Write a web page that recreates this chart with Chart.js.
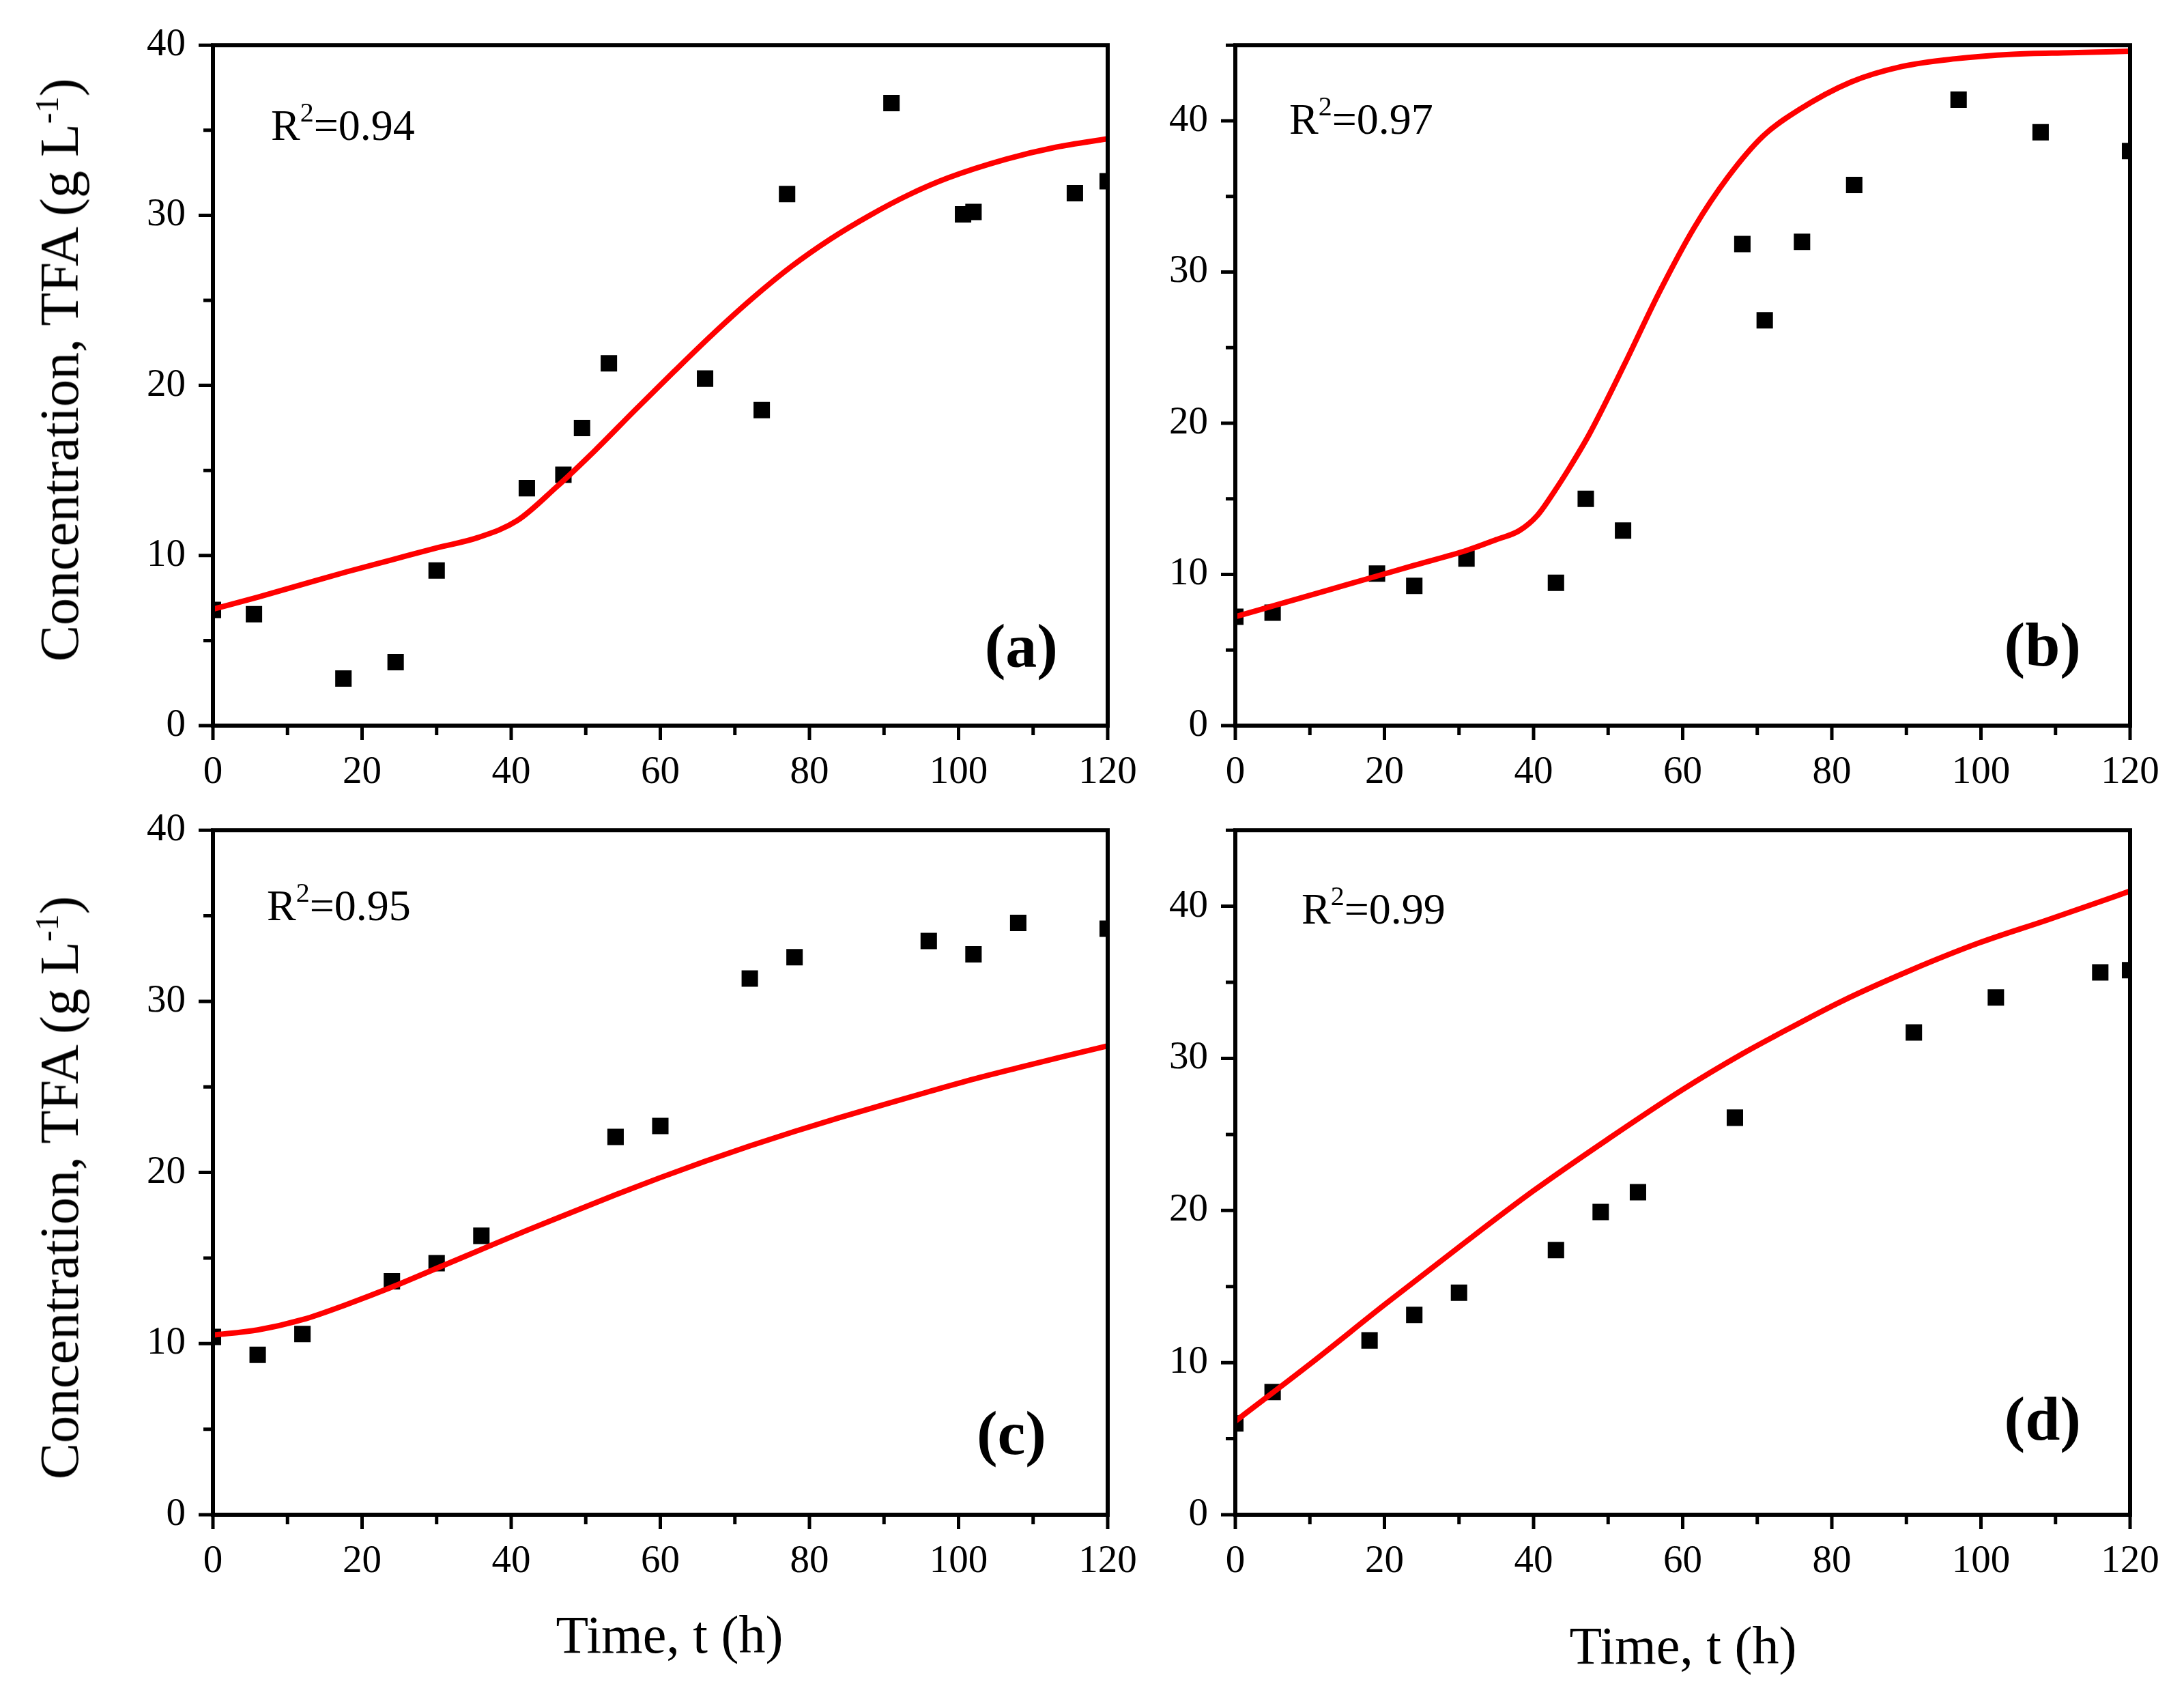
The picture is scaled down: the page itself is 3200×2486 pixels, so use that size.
<!DOCTYPE html>
<html>
<head>
<meta charset="utf-8">
<script src="https://cdn.jsdelivr.net/npm/chart.js@4.4.1/dist/chart.umd.min.js"></script>
<style>
  html, body { margin: 0; padding: 0; background: #fff; }
  #page { position: relative; width: 3200px; height: 2486px; overflow: hidden; background: #fff; }
  canvas { position: absolute; }
  .ytitle, .xtitle {
    position: absolute; white-space: nowrap; color: #000;
    font-family: "Liberation Serif", "DejaVu Serif", serif; line-height: 1;
  }
  .ytitle { font-size: 80px; transform: translate(-50%, -50%) rotate(-90deg); }
  .xtitle { font-size: 78px; transform: translateX(-50%); }
  .ytitle sup { font-size: 0.6em; vertical-align: 0; position: relative; top: -0.6em; }
</style>
</head>
<body>
<div id="page">
  <canvas id="chartA" width="1700" height="1180" style="left:0px;top:0px"></canvas>
  <canvas id="chartB" width="1550" height="1180" style="left:1650px;top:0px"></canvas>
  <canvas id="chartC" width="1700" height="1336" style="left:0px;top:1150px"></canvas>
  <canvas id="chartD" width="1550" height="1336" style="left:1650px;top:1150px"></canvas>

  <div class="ytitle" style="left:87px;top:542px">Concentration, TFA (g L<sup>-1</sup>)</div>
  <div class="ytitle" style="left:87px;top:1740px">Concentration, TFA (g L<sup>-1</sup>)</div>
  <div class="xtitle" style="left:981px;top:2356px">Time, t (h)</div>
  <div class="xtitle" style="left:2466px;top:2372px">Time, t (h)</div>
</div>

<script>
// experimental points (time in h, TFA in g/L)
const timeA = [0, 5.5, 17.5, 24.5, 30, 42.1, 47, 49.5, 53.1, 66, 73.6, 77, 91, 100.6, 102, 115.6, 120];
const tfaA = [6.8, 6.55, 2.77, 3.73, 9.12, 13.96, 14.75, 17.5, 21.3, 20.4, 18.55, 31.25, 36.6, 30.06, 30.2, 31.3, 32.0];

const timeB = [0, 5, 19, 24, 31, 43, 47, 52, 68, 71, 76, 83, 97, 108, 120];
const tfaB = [7.2, 7.47, 10.06, 9.24, 11.05, 9.45, 15.0, 12.9, 31.85, 26.8, 32.0, 35.75, 41.4, 39.24, 38.0];

const timeC = [0, 6, 12, 24, 30, 36, 54, 60, 72, 78, 96, 102, 108, 120];
const tfaC = [10.39, 9.34, 10.56, 13.64, 14.7, 16.3, 22.08, 22.72, 31.33, 32.58, 33.53, 32.75, 34.58, 34.24];

const timeD = [0, 5, 18, 24, 30, 43, 49, 54, 67, 91, 102, 116, 120];
const tfaD = [6.0, 8.07, 11.46, 13.14, 14.6, 17.4, 19.9, 21.2, 26.1, 31.7, 34.0, 35.65, 35.8];

// model curves
const fitTimeA = [0, 6, 12, 18, 24, 30, 35.5, 40.8, 46, 51.3, 56.5, 61.8, 67, 72.3, 77.6, 82.8, 88.1, 93.3, 98.6, 106.4, 113, 120];
const fitTfaA = [6.85, 7.55, 8.3, 9.05, 9.75, 10.45, 11.05, 12.05, 14.0, 16.2, 18.5, 20.8, 23.0, 25.1, 27.0, 28.6, 30.0, 31.2, 32.2, 33.3, 34.0, 34.5];

const fitTimeB = [0, 6, 12, 18, 24, 31.1, 35, 38.1, 40.5, 42.8, 45, 47.5, 52.2, 56.8, 61.5, 66.1, 70.8, 75.5, 82.5, 89.5, 96.5, 104.3, 112, 120];
const fitTfaB = [7.2, 8.05, 8.9, 9.75, 10.6, 11.6, 12.3, 12.9, 13.9, 15.5, 17.2, 19.3, 23.9, 28.6, 32.9, 36.3, 39.0, 40.7, 42.55, 43.6, 44.1, 44.4, 44.5, 44.6];

const fitTimeC = [0, 6, 12, 18, 24, 30, 36, 42, 48, 54, 60, 66, 72, 78, 84, 90, 96, 102, 108, 114, 120];
const fitTfaC = [10.5, 10.8, 11.4, 12.3, 13.3, 14.4, 15.5, 16.6, 17.65, 18.7, 19.7, 20.65, 21.55, 22.4, 23.2, 23.97, 24.72, 25.45, 26.12, 26.77, 27.4];

const fitTimeD = [0, 10, 20, 30, 40, 50, 60, 68, 72.3, 81.5, 90.6, 99.8, 108.9, 114.5, 120];
const fitTfaD = [6.15, 9.9, 13.8, 17.6, 21.3, 24.7, 27.95, 30.3, 31.45, 33.8, 35.8, 37.6, 39.1, 40.05, 41.0];

const xTicks = [0, 20, 40, 60, 80, 100, 120];

const FONT = '"Liberation Serif", "DejaVu Serif", serif';
Chart.defaults.font.family = FONT;
Chart.defaults.color = '#000';

function pairs(xs, ys) {
    return xs.map((x, i) => ({ x: x, y: ys[i] }));
}

// frame, outward ticks (major + minor) and the panel texts
const panelDecor = {
    id: 'panelDecor',
    afterDatasetsDraw(chart, args, opts) {
        const { ctx, chartArea, scales } = chart;
        const { left, right, top, bottom } = chartArea;
        const x = scales.x, y = scales.y;
        ctx.save();
        ctx.strokeStyle = '#000';
        ctx.lineWidth = 6;
        ctx.strokeRect(left, top, right - left, bottom - top);

        ctx.lineWidth = 5;
        ctx.beginPath();
        for (let v = x.min; v <= x.max; v += 10) {
            const px = x.getPixelForValue(v);
            const len = v % 20 === 0 ? 21 : 14;
            ctx.moveTo(px, bottom);
            ctx.lineTo(px, bottom + len);
        }
        for (let v = y.min; v <= y.max; v += 5) {
            const py = y.getPixelForValue(v);
            const len = v % 10 === 0 ? 21 : 14;
            ctx.moveTo(left, py);
            ctx.lineTo(left - len, py);
        }
        ctx.stroke();

        // R^2 label
        ctx.fillStyle = '#000';
        ctx.textAlign = 'left';
        ctx.textBaseline = 'alphabetic';
        let tx = left + opts.r2dx;
        const ty = top + opts.r2dy;
        ctx.font = '64px ' + FONT;
        ctx.fillText('R', tx, ty);
        tx += ctx.measureText('R').width;
        ctx.font = '40px ' + FONT;
        ctx.fillText('2', tx, ty - 27);
        tx += ctx.measureText('2').width;
        ctx.font = '64px ' + FONT;
        ctx.fillText('=' + opts.r2, tx, ty);

        // panel tag
        ctx.font = 'bold 92px ' + FONT;
        ctx.textAlign = 'right';
        ctx.fillText(opts.tag, right - opts.tagdx, bottom - opts.tagdy);
        ctx.restore();
    }
};

function makePanel(id, box, pts, fit, yMax, deco) {
    const canvas = document.getElementById(id);
    const cw = canvas.width, ch = canvas.height;
    const yWidth = box.L - box.cx;
    const xHeight = 90;
    return new Chart(canvas, {
        data: {
            datasets: [
                {
                    type: 'line',
                    data: fit,
                    borderColor: 'rgb(255, 0, 0)',
                    borderWidth: 8,
                    pointRadius: 0,
                    cubicInterpolationMode: 'monotone',
                    fill: false,
                    clip: 0,
                    order: 0
                },
                {
                    type: 'scatter',
                    data: pts,
                    pointStyle: 'rect',
                    pointRadius: 17,
                    pointBackgroundColor: '#000',
                    pointBorderWidth: 0,
                    clip: 0,
                    order: 1
                }
            ]
        },
        options: {
            responsive: false,
            devicePixelRatio: 1,
            animation: false,
            events: [],
            layout: {
                padding: {
                    left: 0,
                    top: box.T - box.cy,
                    right: box.cx + cw - box.R,
                    bottom: box.cy + ch - box.B - xHeight
                }
            },
            scales: {
                x: {
                    type: 'linear',
                    min: 0,
                    max: 120,
                    afterFit(scale) { scale.height = xHeight; },
                    afterBuildTicks(scale) { scale.ticks = xTicks.map(v => ({ value: v })); },
                    grid: { display: false },
                    border: { display: false },
                    ticks: { padding: 27, font: { size: 57 }, color: '#000', maxRotation: 0 }
                },
                y: {
                    type: 'linear',
                    min: 0,
                    max: yMax,
                    afterFit(scale) { scale.width = yWidth; },
                    grid: { display: false },
                    border: { display: false },
                    ticks: {
                        stepSize: 10,
                        includeBounds: false,
                        padding: 32,
                        font: { size: 57 },
                        color: '#000'
                    }
                }
            },
            plugins: {
                legend: { display: false },
                tooltip: { enabled: false },
                panelDecor: deco
            }
        },
        plugins: [panelDecor]
    });
}

makePanel('chartA', { cx: 0, cy: 0, L: 312, R: 1623, T: 57, B: 1063 },
    pairs(timeA, tfaA), pairs(fitTimeA, fitTfaA), 40,
    { r2: '0.94', tag: '(a)', r2dx: 85, r2dy: 139, tagdx: 73, tagdy: 86 });

makePanel('chartB', { cx: 1650, cy: 0, L: 1810, R: 3121, T: 57, B: 1063 },
    pairs(timeB, tfaB), pairs(fitTimeB, fitTfaB), 45,
    { r2: '0.97', tag: '(b)', r2dx: 79, r2dy: 130, tagdx: 72, tagdy: 88 });

makePanel('chartC', { cx: 0, cy: 1150, L: 312, R: 1623, T: 1210, B: 2219 },
    pairs(timeC, tfaC), pairs(fitTimeC, fitTfaC), 40,
    { r2: '0.95', tag: '(c)', r2dx: 79, r2dy: 132, tagdx: 90, tagdy: 89 });

makePanel('chartD', { cx: 1650, cy: 1150, L: 1810, R: 3121, T: 1210, B: 2219 },
    pairs(timeD, tfaD), pairs(fitTimeD, fitTfaD), 45,
    { r2: '0.99', tag: '(d)', r2dx: 97, r2dy: 137, tagdx: 72, tagdy: 110 });
</script>
</body>
</html>
